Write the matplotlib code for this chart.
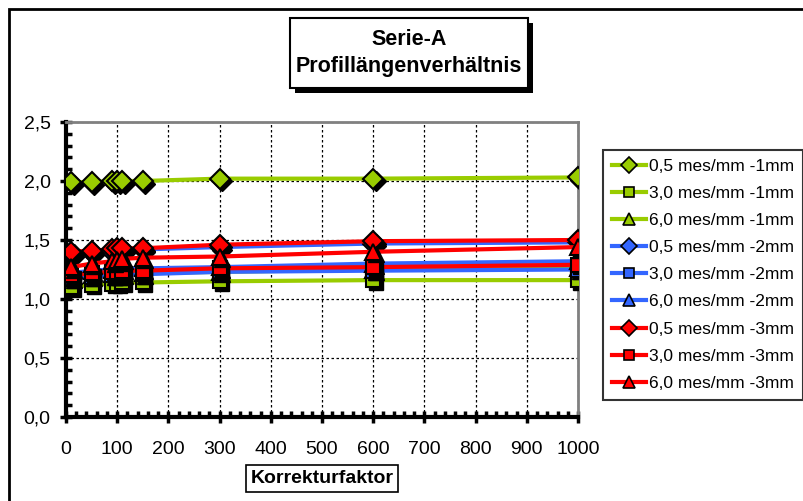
import matplotlib
matplotlib.use("Agg")
import matplotlib.pyplot as plt
from matplotlib.patches import Rectangle
from matplotlib.ticker import MultipleLocator, FuncFormatter
from matplotlib import transforms

plt.rcParams['font.family'] = ['Liberation Sans', 'DejaVu Sans']

# Korrekturfaktor
x_vals = [10, 50, 90, 100, 110, 150, 300, 600, 1000]

labels = ["0,5 mes/mm -1mm", "3,0 mes/mm -1mm", "6,0 mes/mm -1mm",
          "0,5 mes/mm -2mm", "3,0 mes/mm -2mm", "6,0 mes/mm -2mm",
          "0,5 mes/mm -3mm", "3,0 mes/mm -3mm", "6,0 mes/mm -3mm"]

g_05 = [1.99, 1.99, 2.00, 2.00, 2.00, 2.00, 2.02, 2.02, 2.03]
g_30 = [1.10, 1.12, 1.13, 1.13, 1.14, 1.14, 1.15, 1.16, 1.16]
g_60 = [1.18, 1.20, 1.21, 1.21, 1.22, 1.22, 1.23, 1.25, 1.26]
b_05 = [1.38, 1.39, 1.40, 1.41, 1.41, 1.42, 1.44, 1.47, 1.48]
b_30 = [1.17, 1.19, 1.20, 1.20, 1.21, 1.21, 1.23, 1.24, 1.25]
b_60 = [1.22, 1.24, 1.25, 1.25, 1.26, 1.26, 1.27, 1.30, 1.32]
r_05 = [1.40, 1.41, 1.42, 1.43, 1.43, 1.43, 1.46, 1.49, 1.50]
r_30 = [1.20, 1.22, 1.23, 1.23, 1.24, 1.24, 1.26, 1.27, 1.29]
r_60 = [1.27, 1.30, 1.32, 1.33, 1.34, 1.35, 1.36, 1.40, 1.44]

series = [g_05, g_30, g_60, b_05, b_30, b_60, r_05, r_30, r_60]
colors = ['#99cc00'] * 3 + ['#3366ff'] * 3 + ['#ff0000'] * 3
markers = ['D', 's', '^'] * 3
msizes = [10, 9.5, 11] * 3

W, H = 804, 501
fig = plt.figure(figsize=(W / 100, H / 100), dpi=100)
ax = fig.add_axes([66 / W, 84 / H, 512 / W, 295 / H])

# schatten der marker: schwarze kopie, leicht versetzt
shadow = transforms.offset_copy(ax.transData, fig=fig, x=2.5, y=-2.5, units='dots')

for vals, col, mk, ms in zip(series, colors, markers, msizes):
    ax.plot(x_vals, vals, color=col, lw=3, zorder=3, solid_capstyle='butt')
    ax.plot(x_vals, vals, ls='none', marker=mk, ms=ms, color='black',
            transform=shadow, zorder=3)
    ax.plot(x_vals, vals, ls='none', marker=mk, ms=ms, mfc=col,
            mec='black', mew=1.5, zorder=3)

# legend-eintraege separat (linie + marker)
handles = [plt.Line2D([], [], color=c, lw=3, marker=m, ms=s * 0.8, mfc=c,
                      mec='black', mew=1.2)
           for c, m, s in zip(colors, markers, msizes)]
leg = fig.legend(handles, labels, loc='upper left',
                 bbox_to_anchor=(603 / W, 1 - 150 / H),
                 fontsize=12.5, frameon=True, fancybox=False, shadow=False,
                 handlelength=2.0, handletextpad=0.15, labelspacing=0.69,
                 borderpad=0.5, borderaxespad=0)
leg.get_frame().set_edgecolor('black')
leg.get_frame().set_linewidth(1.5)

ax.set_xlim(0, 1000)
ax.set_ylim(0, 2.5)
ax.xaxis.set_major_locator(MultipleLocator(100))
ax.xaxis.set_minor_locator(MultipleLocator(20))
ax.yaxis.set_major_locator(MultipleLocator(0.5))
ax.yaxis.set_minor_locator(MultipleLocator(0.1))
ax.yaxis.set_major_formatter(FuncFormatter(lambda v, p: f"{v:.1f}".replace('.', ',')))

ax.grid(True, which='major', color='black', ls=(0, (2, 2)), lw=0.9)
ax.set_axisbelow(True)

for s in ['left', 'bottom']:
    ax.spines[s].set_linewidth(3)
    ax.spines[s].set_color('black')
for s in ['top', 'right']:
    ax.spines[s].set_linewidth(2)
    ax.spines[s].set_color('#808080')

ax.tick_params(which='major', direction='inout', length=8, width=2.5,
               labelsize=14, color='black')
ax.tick_params(which='minor', direction='in', length=4, width=2.5, color='black')
ax.tick_params(axis='y', which='major', pad=7)
ax.tick_params(axis='x', which='major', pad=13)

ax.set_xlabel("Korrekturfaktor", fontsize=14, fontweight='bold', labelpad=9,
              bbox=dict(boxstyle='square,pad=0.25', fc='white', ec='black', lw=1.2))

# titel-kasten mit schatten
x0, y0, bw, bh = 290, 18, 238, 70
fig.patches.append(Rectangle(((x0 + 5) / W, 1 - (y0 + bh + 5) / H), bw / W, bh / H,
                             transform=fig.transFigure, fc='black', ec='none'))
fig.patches.append(Rectangle((x0 / W, 1 - (y0 + bh) / H), bw / W, bh / H,
                             transform=fig.transFigure, fc='white', ec='black', lw=1.5))
fig.text((x0 + bw / 2) / W, 1 - (y0 + bh / 2) / H, "Serie-A\nProfillängenverhältnis",
         ha='center', va='center', fontsize=15.5, fontweight='bold',
         linespacing=1.35)

# rahmen um die ganze grafik
fig.patches.append(Rectangle((9 / W, -10 / H), 810 / W, 502 / H,
                             transform=fig.transFigure, fill=False,
                             ec='black', lw=2, zorder=-1))

fig.savefig("out.png", dpi=100)
